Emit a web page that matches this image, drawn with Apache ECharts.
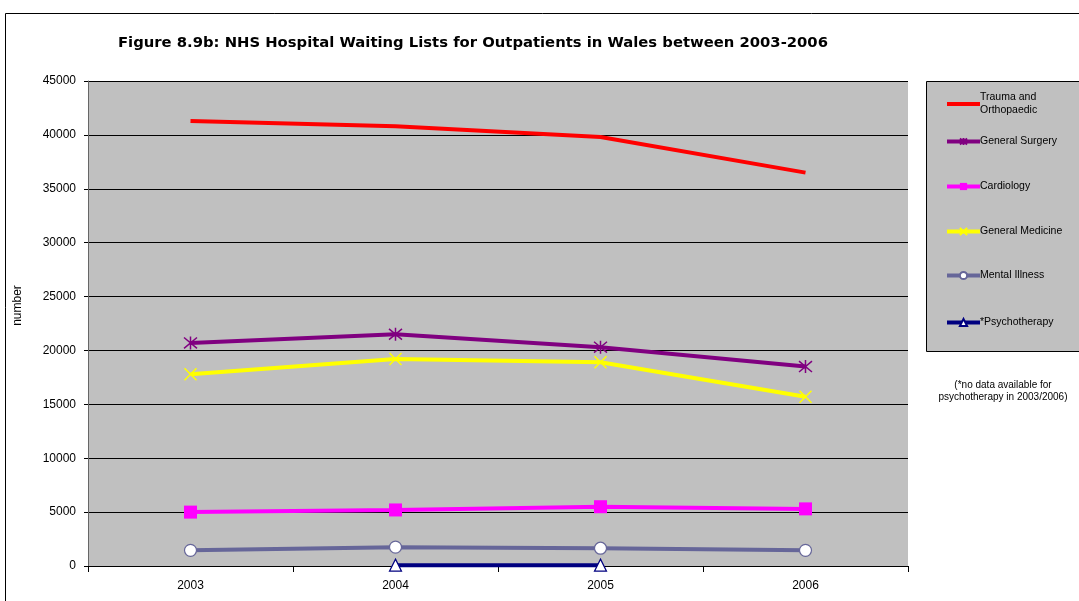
<!DOCTYPE html>
<html>
<head>
<meta charset="utf-8">
<script src="https://cdn.jsdelivr.net/npm/echarts@6/dist/echarts.min.js"></script>
<style>
html, body { margin: 0; padding: 0; background: #fff; }
#chart { width: 1079px; height: 601px; }
</style>
</head>
<body>
<div id="chart"></div>
<script>
var years = ['2003', '2004', '2005', '2006'];
var trauma = [41300, 40800, 39800, 36500];
var genSurgery = [20700, 21500, 20300, 18500];
var cardiology = [5000, 5200, 5500, 5300];
var genMedicine = [17800, 19200, 18900, 15700];
var mentalIllness = [1450, 1750, 1650, 1450];
var psychotherapy = [null, 80, 80, null];

var names = ['Trauma and\nOrthopaedic', 'General Surgery', 'Cardiology', 'General Medicine', 'Mental Illness', '*Psychotherapy'];
var legendTops = [91, 135, 180, 225, 269, 316];

var font = 'Liberation Sans, Arial, sans-serif';
var chart = echarts.init(document.getElementById('chart'));

var star = 'path://M0,0L10,10M10,0L0,10M5,-1L5,11';
var cross = 'path://M0,0L10,10M10,0L0,10';

var option = {
    animation: false,
    backgroundColor: '#fff',
    textStyle: { fontFamily: font },
    title: {
        text: 'Figure 8.9b: NHS Hospital Waiting Lists for Outpatients in Wales between 2003-2006',
        left: 118,
        top: 36,
        padding: 0,
        textStyle: { fontSize: 14.8, fontWeight: 'bold', color: '#000', fontFamily: 'DejaVu Sans' }
    },
    legend: names.map(function (n, i) {
        return {
            data: [i === 0 ? { name: n, itemStyle: { opacity: 0 } } : n],
            left: 945,
            top: legendTops[i],
            orient: 'vertical',
            itemWidth: 33,
            itemHeight: 9,
            itemGap: 0,
            padding: 0,
            lineStyle: { width: 4 },
            textStyle: { fontSize: 10.5, lineHeight: 13, color: '#000', fontFamily: font, padding: [0, 0, 0, -5] }
        };
    }),
    graphic: [
        { type: 'rect', shape: { x: 5.5, y: 13.5, width: 1100, height: 620 },
          style: { fill: null, stroke: '#000', lineWidth: 1 }, z: -10 },
        { type: 'rect', shape: { x: 926.5, y: 81.5, width: 170, height: 270 },
          style: { fill: '#c0c0c0', stroke: '#000', lineWidth: 1 }, z: -5 },
        { type: 'text', x: 1003, y: 379,
          style: { text: '(*no data available for\npsychotherapy in 2003/2006)', fill: '#000',
                   fontSize: 10, fontFamily: font, align: 'center', lineHeight: 12 } }
    ],
    grid: { left: 88, right: 171, top: 81, bottom: 35, show: true, backgroundColor: '#c0c0c0', borderWidth: 0 },
    xAxis: {
        type: 'category',
        data: years,
        boundaryGap: true,
        axisLine: { lineStyle: { color: '#000', width: 1 } },
        axisTick: { show: true, length: 6, lineStyle: { color: '#000' } },
        axisLabel: { color: '#000', fontSize: 12, margin: 14, fontFamily: font },
        splitLine: { show: false }
    },
    yAxis: {
        type: 'value',
        min: 0,
        max: 45000,
        interval: 5000,
        name: 'number',
        nameLocation: 'middle',
        nameRotate: 90,
        nameGap: 64,
        nameTextStyle: { color: '#000', fontSize: 12, fontFamily: font, padding: [0, 0, 0, 36] },
        axisLine: { show: true, lineStyle: { color: '#666', width: 1 } },
        axisTick: { show: true, length: 4, lineStyle: { color: '#000' } },
        axisLabel: { color: '#000', fontSize: 12, margin: 12, fontFamily: font,
                     formatter: function (v) { return String(v); } },
        splitLine: { show: true, lineStyle: { color: '#000', width: 1 } }
    },
    series: [
        {
            name: names[0], type: 'line', data: trauma,
            symbol: 'none', lineStyle: { color: '#ff0000', width: 4 }, itemStyle: { color: '#ff0000' }
        },
        {
            name: names[1], type: 'line', data: genSurgery,
            symbol: star, symbolSize: 13,
            lineStyle: { color: '#800080', width: 4 },
            itemStyle: { color: '#800080', borderColor: '#800080', borderWidth: 1.5 }
        },
        {
            name: names[2], type: 'line', data: cardiology,
            symbol: 'rect', symbolSize: 13,
            lineStyle: { color: '#ff00ff', width: 4 },
            itemStyle: { color: '#ff00ff', borderColor: '#ff00ff', borderWidth: 0 }
        },
        {
            name: names[3], type: 'line', data: genMedicine,
            symbol: cross, symbolSize: 12,
            lineStyle: { color: '#ffff00', width: 4 },
            itemStyle: { color: '#ffff00', borderColor: '#ffff00', borderWidth: 1.5 }
        },
        {
            name: names[4], type: 'line', data: mentalIllness,
            symbol: 'circle', symbolSize: 12,
            lineStyle: { color: '#666699', width: 4 },
            itemStyle: { color: '#fff', borderColor: '#666699', borderWidth: 1.2 }
        },
        {
            name: names[5], type: 'line', data: psychotherapy,
            symbol: 'triangle', symbolSize: 12,
            lineStyle: { color: '#000080', width: 4 },
            itemStyle: { color: '#fff', borderColor: '#000080', borderWidth: 1.2 }
        }
    ]
};

chart.setOption(option);
</script>
</body>
</html>
